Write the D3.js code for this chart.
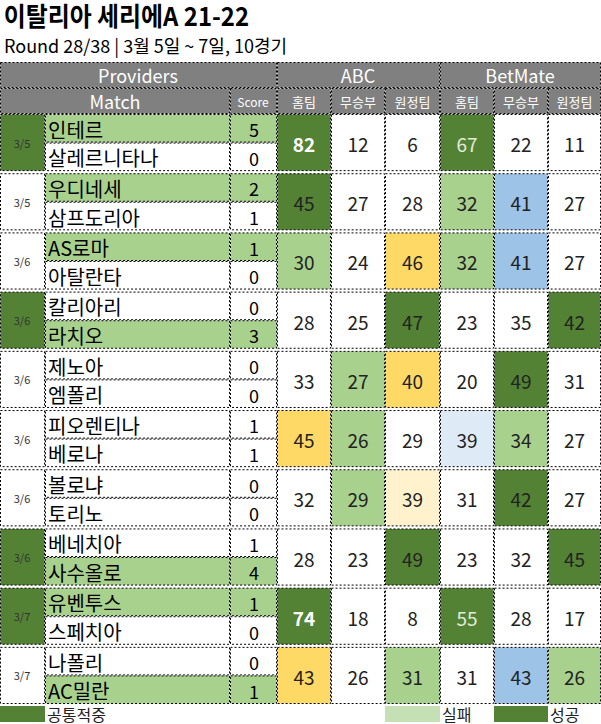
<!DOCTYPE html>
<html><head><meta charset="utf-8">
<script src="https://cdn.jsdelivr.net/npm/d3@7"></script>
<style>body{margin:0;background:#fff}text{font-family:"Noto Sans CJK KR","Noto Sans",sans-serif}</style>
</head><body><div id="chart"></div>
<script>
// data
const dates = ["3/5","3/5","3/6","3/6","3/6","3/6","3/6","3/6","3/7","3/7"];
const homeTeams = ["인테르","우디네세","AS로마","칼리아리","제노아","피오렌티나","볼로냐","베네치아","유벤투스","나폴리"];
const awayTeams = ["살레르니타나","삼프도리아","아탈란타","라치오","엠폴리","베로나","토리노","사수올로","스페치아","AC밀란"];
const homeScores = [5,2,1,0,0,1,0,1,1,0];
const awayScores = [0,1,0,3,0,1,0,4,0,1];
const abcValues = [[82,12,6],[45,27,28],[30,24,46],[28,25,47],[33,27,40],[45,26,29],[32,29,39],[28,23,49],[74,18,8],[43,26,31]];
const betValues = [[67,22,11],[32,41,27],[32,41,27],[23,35,42],[20,49,31],[39,34,27],[31,42,27],[23,32,45],[55,28,17],[31,43,26]];
// cell marks: c = common hit, h = hit, y = ABC miss, p = weak miss, b = BetMate miss, l = weak miss, "" = none
const abcMarks = [["c","",""],["c","",""],["h","","y"],["","","c"],["","h","y"],["y","h",""],["","h","p"],["","","c"],["c","",""],["y","","h"]];
const betMarks = [["c","",""],["h","b",""],["h","b",""],["","","c"],["","c",""],["l","h",""],["","c",""],["","","c"],["c","",""],["","b","h"]];
const commonRows = [true,false,false,true,false,false,false,true,true,false];
const subHeads = ["홈팀","무승부","원정팀","홈팀","무승부","원정팀"];
const legendItems = [["c","공통적중"],["m","실패"],["c","성공"]];

const W = 601, H = 724;
const svg = d3.select("#chart").append("svg").attr("width", W).attr("height", H);
const color = d3.scaleOrdinal()
  .domain(["c","h","y","p","b","l","m",""])
  .range(["#548235","#a9d18e","#ffd966","#fff2cc","#9dc3e6","#deebf7","#c5e0b4","#ffffff"]);
const edges = [0,45,230,277,331,385,440,494,548,601];
const dash = "2,2";

svg.append("text").attr("x",4).attr("y",26).attr("font-size",26).attr("font-weight","bold")
  .attr("fill","#000").attr("transform","scale(0.92,1)").text("이탈리아 세리에A 21-22");
svg.append("text").attr("x",4).attr("y",53).attr("font-size",18).attr("fill","#000")
  .text("Round 28/38 | 3월 5일 ~ 7일, 10경기");

function cell(x0,x1,y0,y1,fill){
  svg.append("rect").attr("x",x0+0.5).attr("y",y0+0.5).attr("width",x1-x0-1).attr("height",y1-y0-1)
    .attr("fill",fill).attr("stroke","#000").attr("stroke-dasharray",dash).attr("stroke-width",1);
}
function label(x,y,t,opt={}){
  svg.append("text").attr("x",x).attr("y",y).attr("text-anchor",opt.anchor||"middle")
    .attr("dominant-baseline","central").attr("font-size",opt.size||17)
    .attr("font-weight",opt.bold?"bold":null).attr("fill",opt.fill||"#111").text(t);
}

// header
const hy = [62,88,114];
cell(0,277,hy[0],hy[1],"#808080"); label(138,75,"Providers",{fill:"#fff",size:18});
cell(277,440,hy[0],hy[1],"#808080"); label(358,75,"ABC",{fill:"#fff",size:18});
cell(440,601,hy[0],hy[1],"#808080"); label(520,75,"BetMate",{fill:"#fff",size:18});
cell(0,230,hy[1],hy[2],"#808080"); label(115,101,"Match",{fill:"#fff",size:18});
cell(230,277,hy[1],hy[2],"#808080"); label(253,101,"Score",{fill:"#fff",size:12});
subHeads.forEach((s,i)=>{
  cell(edges[i+3],edges[i+4],hy[1],hy[2],"#808080");
  label((edges[i+3]+edges[i+4])/2,101,s,{fill:"#fff",size:13});
});

const y = d3.scaleBand().domain(d3.range(dates.length)).range([114,704]).paddingInner(0.035);
dates.forEach((d,i)=>{
  const y0 = y(i), y1 = y0 + y.bandwidth(), ym = (y0+y1)/2;
  cell(0,45,y0,y1,commonRows[i]?color("c"):"#fff");
  label(22,ym,d,{size:11,fill:"#333"});
  const homeWin = homeScores[i]>awayScores[i], awayWin = awayScores[i]>homeScores[i];
  cell(45,230,y0,ym,homeWin?color("h"):"#fff");
  cell(230,277,y0,ym,homeWin?color("h"):"#fff");
  cell(45,230,ym,y1,awayWin?color("h"):"#fff");
  cell(230,277,ym,y1,awayWin?color("h"):"#fff");
  label(48,(y0+ym)/2+1,homeTeams[i],{anchor:"start",size:20,fill:"#000"});
  label(48,(ym+y1)/2+1,awayTeams[i],{anchor:"start",size:20,fill:"#000"});
  label(254,(y0+ym)/2+1,homeScores[i],{size:18,fill:"#000"});
  label(254,(ym+y1)/2+1,awayScores[i],{size:18,fill:"#000"});
  const vals = abcValues[i].concat(betValues[i]);
  const marks = abcMarks[i].concat(betMarks[i]);
  vals.forEach((v,j)=>{
    const x0 = edges[j+3], x1 = edges[j+4];
    cell(x0,x1,y0,y1,color(marks[j]));
    const bold = v>=70;
    const light = marks[j]==="c" && (bold || j===3);
    label((x0+x1)/2,ym+1,v,{size:19,bold,fill:light?(bold?"#fff":"#e2ecd9"):"#222"});
  });
});

// legend
const ly0 = 706, ly1 = 722;
const legendPos = [[0,45,47],[385,440,442],[494,548,550]];
legendItems.forEach((l,i)=>{
  const [x0,x1,tx] = legendPos[i];
  svg.append("rect").attr("x",x0).attr("y",ly0).attr("width",x1-x0).attr("height",ly1-ly0).attr("fill",color(l[0]));
  label(tx,(ly0+ly1)/2,l[1],{anchor:"start",size:16,fill:"#222"});
});
</script></body></html>
